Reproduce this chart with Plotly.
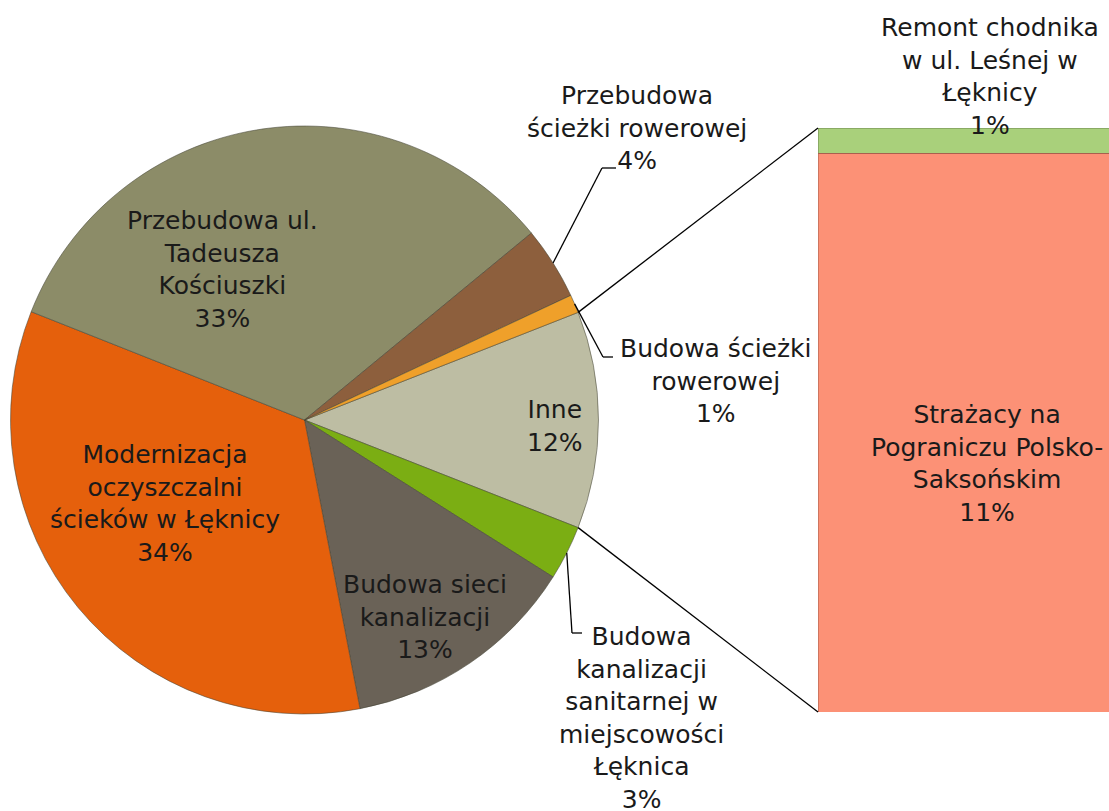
import math

import plotly.graph_objects as go

# Pie slices, clockwise, starting with the "Inne" wedge that is broken out into the bar
pie_labels = [
    "Inne",
    "Budowa kanalizacji sanitarnej w miejscowości Łęknica",
    "Budowa sieci kanalizacji",
    "Modernizacja oczyszczalni ścieków w Łęknicy",
    "Przebudowa ul. Tadeusza Kościuszki",
    "Przebudowa ścieżki rowerowej",
    "Budowa ścieżki rowerowej",
]
pie_values = [None, 3.0, 13.0, 34.0, 33.0, 4.0, 1.0]  # "Inne" filled from the bar below

# Stacked bar (bottom to top): what "Inne" is made of
bar_labels = ["Strażacy na Pograniczu Polsko-Saksońskim", "Remont chodnika w ul. Leśnej w Łęknicy"]
bar_values = [11.4, 0.52]

pie_values[0] = sum(bar_values)
total = sum(pie_values)

pie_colors = ["#BDBDA3", "#7BAE13", "#6A6257", "#E5600C", "#8C8C68", "#8D5F3D", "#EFA02A"]
bar_colors = ["#FC9176", "#A9D07B"]

# how the labels wrap, as in the original
wrapped = {
    "Inne": "Inne",
    "Budowa kanalizacji sanitarnej w miejscowości Łęknica":
        "Budowa<br>kanalizacji<br>sanitarnej w<br>miejscowości<br>Łęknica",
    "Budowa sieci kanalizacji": "Budowa sieci<br>kanalizacji",
    "Modernizacja oczyszczalni ścieków w Łęknicy": "Modernizacja<br>oczyszczalni<br>ścieków w Łęknicy",
    "Przebudowa ul. Tadeusza Kościuszki": "Przebudowa ul.<br>Tadeusza<br>Kościuszki",
    "Przebudowa ścieżki rowerowej": "Przebudowa<br>ścieżki rowerowej",
    "Budowa ścieżki rowerowej": "Budowa ścieżki<br>rowerowej",
    "Strażacy na Pograniczu Polsko-Saksońskim": "Strażacy na<br>Pograniczu Polsko-<br>Saksońskim",
    "Remont chodnika w ul. Leśnej w Łęknicy": "Remont chodnika<br>w ul. Leśnej w<br>Łęknicy",
}

W, H = 1109, 811
FONT = "DejaVu Sans"


def px(x, y):
    return x / W, 1 - y / H


# pie geometry (pixels)
cx, cy, r = 304.5, 420.0, 294.0
pie_dom_x = [(cx - r) / W, (cx + r) / W]
pie_dom_y = [1 - (cy + r) / H, 1 - (cy - r) / H]

# "Inne" centred on 3 o'clock
inne_span = 360 * pie_values[0] / total
rotation = 90 - inne_span / 2

# bar geometry
bar_dom_x = [818 / W, 1.0]
bar_dom_y = [1 - 712 / H, 1 - 128 / H]

fig = go.Figure()

fig.add_trace(go.Pie(
    labels=pie_labels,
    values=pie_values,
    sort=False,
    direction="clockwise",
    rotation=rotation,
    marker=dict(colors=pie_colors, line=dict(color="rgba(70,70,55,0.55)", width=1)),
    textinfo="none",
    hoverinfo="label+percent",
    domain=dict(x=pie_dom_x, y=pie_dom_y),
    showlegend=False,
))

for lab, val, col in zip(bar_labels, bar_values, bar_colors):
    fig.add_trace(go.Bar(
        x=[0], y=[val], width=1, name=lab,
        marker=dict(color=col, line=dict(color="rgba(0,0,0,0.18)", width=1)),
        hoverinfo="name+y",
        showlegend=False,
    ))


def rim(theta_deg):
    t = math.radians(theta_deg)
    return cx + r * math.sin(t), cy - r * math.cos(t)


# slice angles (clockwise from 12 o'clock)
starts = []
acc = rotation
for v in pie_values:
    starts.append(acc)
    acc += 360 * v / total
mids = [s + 180 * v / total for s, v in zip(starts, pie_values)]


def pct(v):
    return f"{v / total * 100:.0f}%"


annotations = []
# label centres in pixels
label_pos = {
    "Inne": (555, 426),
    "Budowa kanalizacji sanitarnej w miejscowości Łęknica": (641, 718),
    "Budowa sieci kanalizacji": (425, 617),
    "Modernizacja oczyszczalni ścieków w Łęknicy": (165, 503),
    "Przebudowa ul. Tadeusza Kościuszki": (222, 269),
    "Przebudowa ścieżki rowerowej": (637, 128),
    "Budowa ścieżki rowerowej": (716, 381),
    "Strażacy na Pograniczu Polsko-Saksońskim": (987, 463),
    "Remont chodnika w ul. Leśnej w Łęknicy": (990, 76),
}
for lab, val in list(zip(pie_labels, pie_values)) + list(zip(bar_labels, bar_values)):
    x, y = px(*label_pos[lab])
    annotations.append(dict(
        x=x, y=y, xref="paper", yref="paper",
        text=wrapped[lab] + "<br>" + pct(val),
        showarrow=False, xanchor="center", yanchor="middle",
        font=dict(family=FONT, size=25, color="#1A1A1A"),
    ))

shapes = []
line_style = dict(color="#000000", width=1.3)

# leader lines for labels placed outside the pie: rim -> elbow -> end
leaders = {
    "Przebudowa ścieżki rowerowej": ((602, 168), (616, 168)),
    "Budowa ścieżki rowerowej": ((603, 357), (613, 357)),
    "Budowa kanalizacji sanitarnej w miejscowości Łęknica": ((572, 633), (582, 633)),
}
for lab, (elbow, end) in leaders.items():
    i = pie_labels.index(lab)
    sx, sy = rim(mids[i])
    pts = [px(sx, sy), px(*elbow), px(*end)]
    for a, b in zip(pts[:-1], pts[1:]):
        shapes.append(dict(type="line", xref="paper", yref="paper",
                           x0=a[0], y0=a[1], x1=b[0], y1=b[1], line=line_style))

# connectors from the "Inne" wedge to the bar
top_rim = px(*rim(starts[0]))
bot_rim = px(*rim(starts[0] + inne_span))
shapes.append(dict(type="line", xref="paper", yref="paper",
                   x0=top_rim[0], y0=top_rim[1], x1=bar_dom_x[0], y1=bar_dom_y[1], line=line_style))
shapes.append(dict(type="line", xref="paper", yref="paper",
                   x0=bot_rim[0], y0=bot_rim[1], x1=bar_dom_x[0], y1=bar_dom_y[0], line=line_style))

fig.update_layout(
    width=W, height=H,
    margin=dict(l=0, r=0, t=0, b=0),
    paper_bgcolor="white", plot_bgcolor="white",
    barmode="stack",
    xaxis=dict(domain=bar_dom_x, range=[-0.5, 0.361], visible=False, fixedrange=True),
    yaxis=dict(domain=bar_dom_y, range=[0, sum(bar_values)], visible=False, fixedrange=True),
    annotations=annotations,
    shapes=shapes,
    showlegend=False,
)

# drop the browser's default body margin so the figure sits at the page corner
fig.write_html(
    "out.html",
    config={"displayModeBar": False},
    post_script="document.body.style.margin='0';document.body.style.overflow='hidden';",
)
